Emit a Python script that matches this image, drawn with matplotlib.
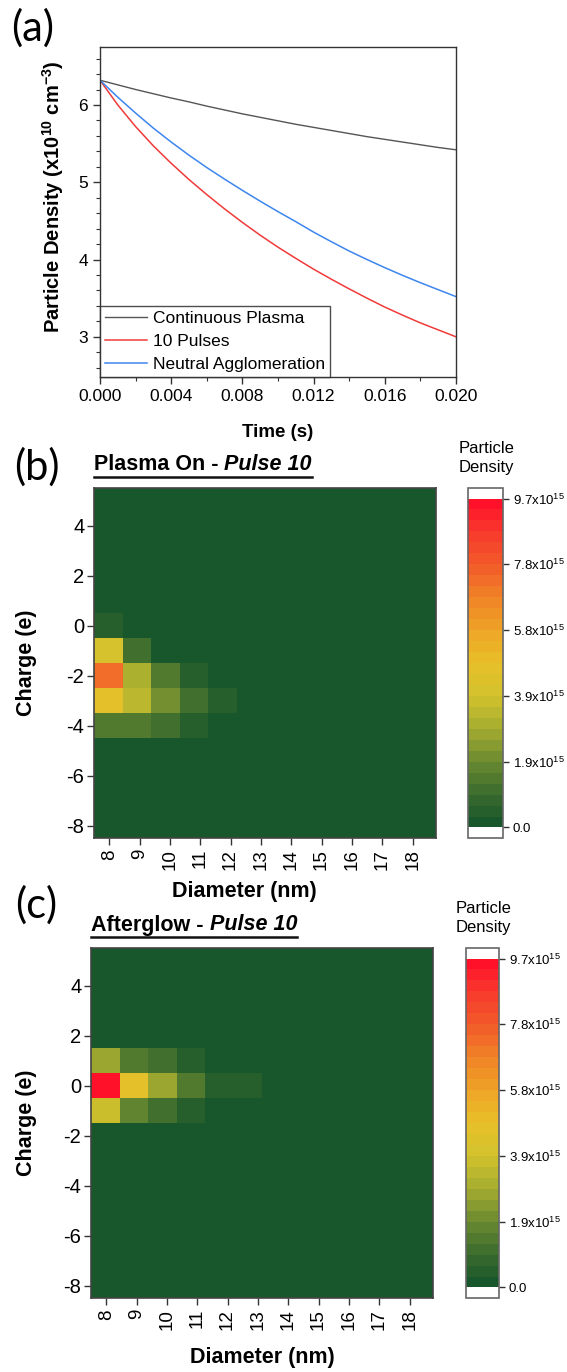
import numpy as np
import matplotlib
matplotlib.use("Agg")
import matplotlib.pyplot as plt
from matplotlib.colors import LinearSegmentedColormap, ListedColormap, BoundaryNorm
from matplotlib.ticker import MultipleLocator, FormatStrFormatter
from matplotlib.lines import Line2D

plt.rcParams['font.family'] = ['Liberation Sans', 'DejaVu Sans']
plt.rcParams['mathtext.fontset'] = 'custom'
plt.rcParams['mathtext.rm'] = 'Liberation Sans'
plt.rcParams['mathtext.bf'] = 'Liberation Sans:bold'
plt.rcParams['mathtext.it'] = 'Liberation Sans:italic'
plt.rcParams['axes.unicode_minus'] = False

# ---------------- data: panel (a) ----------------
time_s = [0.000, 0.001, 0.002, 0.003, 0.004, 0.005, 0.006, 0.007, 0.008, 0.009, 0.010,
          0.011, 0.012, 0.013, 0.014, 0.015, 0.016, 0.017, 0.018, 0.019, 0.020]
continuous = [6.32, 6.26, 6.20, 6.145, 6.09, 6.04, 5.985, 5.935, 5.885, 5.84, 5.795,
              5.75, 5.71, 5.67, 5.63, 5.59, 5.555, 5.52, 5.485, 5.45, 5.42]
pulses10 = [6.32, 6.00, 5.72, 5.47, 5.245, 5.035, 4.84, 4.655, 4.48, 4.315, 4.16,
            4.015, 3.875, 3.745, 3.62, 3.50, 3.385, 3.28, 3.18, 3.09, 3.00]
neutral = [6.32, 6.10, 5.895, 5.70, 5.52, 5.35, 5.19, 5.04, 4.895, 4.755, 4.62,
           4.49, 4.355, 4.23, 4.11, 4.00, 3.895, 3.795, 3.70, 3.61, 3.52]

# ---------------- data: heatmaps (units of 1e15) ----------------
diameters = [8, 9, 10, 11, 12, 13, 14, 15, 16, 17, 18]
charges = [5, 4, 3, 2, 1, 0, -1, -2, -3, -4, -5, -6, -7, -8]
plasma_on = [
    [0, 0, 0, 0, 0, 0, 0, 0, 0, 0, 0],          # 5
    [0, 0, 0, 0, 0, 0, 0, 0, 0, 0, 0],          # 4
    [0, 0, 0, 0, 0, 0, 0, 0, 0, 0, 0],          # 3
    [0, 0, 0, 0, 0, 0, 0, 0, 0, 0, 0],          # 2
    [0, 0, 0, 0, 0, 0, 0, 0, 0, 0, 0],          # 1
    [0.5, 0, 0, 0, 0, 0, 0, 0, 0, 0, 0],        # 0
    [3.9, 0.97, 0, 0, 0, 0, 0, 0, 0, 0, 0],     # -1
    [7.2, 3.0, 1.35, 0.5, 0, 0, 0, 0, 0, 0, 0], # -2
    [4.65, 3.4, 1.95, 1.05, 0.5, 0, 0, 0, 0, 0, 0],  # -3
    [1.35, 1.35, 1.05, 0.5, 0, 0, 0, 0, 0, 0, 0],    # -4
    [0, 0, 0, 0, 0, 0, 0, 0, 0, 0, 0],          # -5
    [0, 0, 0, 0, 0, 0, 0, 0, 0, 0, 0],          # -6
    [0, 0, 0, 0, 0, 0, 0, 0, 0, 0, 0],          # -7
    [0, 0, 0, 0, 0, 0, 0, 0, 0, 0, 0],          # -8
]
afterglow = [
    [0, 0, 0, 0, 0, 0, 0, 0, 0, 0, 0],          # 5
    [0, 0, 0, 0, 0, 0, 0, 0, 0, 0, 0],          # 4
    [0, 0, 0, 0, 0, 0, 0, 0, 0, 0, 0],          # 3
    [0, 0, 0, 0, 0, 0, 0, 0, 0, 0, 0],          # 2
    [2.7, 1.35, 0.97, 0.5, 0, 0, 0, 0, 0, 0, 0],      # 1
    [9.6, 4.8, 2.7, 1.45, 0.5, 0.5, 0, 0, 0, 0, 0],   # 0
    [3.6, 1.9, 0.97, 0.5, 0, 0, 0, 0, 0, 0, 0],       # -1
    [0, 0, 0, 0, 0, 0, 0, 0, 0, 0, 0],          # -2
    [0, 0, 0, 0, 0, 0, 0, 0, 0, 0, 0],          # -3
    [0, 0, 0, 0, 0, 0, 0, 0, 0, 0, 0],          # -4
    [0, 0, 0, 0, 0, 0, 0, 0, 0, 0, 0],          # -5
    [0, 0, 0, 0, 0, 0, 0, 0, 0, 0, 0],          # -6
    [0, 0, 0, 0, 0, 0, 0, 0, 0, 0, 0],          # -7
    [0, 0, 0, 0, 0, 0, 0, 0, 0, 0, 0],          # -8
]
cbar_max = 9.7
cbar_ticks = [0.0, 1.94, 3.88, 5.82, 7.76, 9.7]
cbar_labels = ['0.0', '1.9x10$^{15}$', '3.9x10$^{15}$', '5.8x10$^{15}$',
               '7.8x10$^{15}$', '9.7x10$^{15}$']

# ---------------- figure ----------------
W, H = 567, 1372
fig = plt.figure(figsize=(W / 100, H / 100), dpi=100)


def rect(l, t, r, b):
    return [l / W, 1 - b / H, (r - l) / W, (b - t) / H]


# ---------- panel (a) ----------
axA = fig.add_axes(rect(100, 47, 456, 377))
axA.plot(time_s, continuous, color='#555555', lw=1.0, label='Continuous Plasma')
axA.plot(time_s, pulses10, color='#f03a3a', lw=1.1, label='10 Pulses')
axA.plot(time_s, neutral, color='#3d86ee', lw=1.1, label='Neutral Agglomeration')
axA.set_xlim(0, 0.020)
axA.set_ylim(2.48, 6.75)
axA.xaxis.set_major_locator(MultipleLocator(0.004))
axA.xaxis.set_minor_locator(MultipleLocator(0.002))
axA.xaxis.set_major_formatter(FormatStrFormatter('%.3f'))
axA.yaxis.set_major_locator(MultipleLocator(1))
axA.yaxis.set_minor_locator(MultipleLocator(0.2))
axA.tick_params(which='major', direction='out', length=5, width=1, labelsize=12.5,
                top=False, right=False, color='#333333')
axA.tick_params(which='minor', direction='out', length=3, width=0.8,
                top=False, right=False, color='#333333')
for s in axA.spines.values():
    s.set_color('#333333')
    s.set_linewidth(1.0)
axA.set_xlabel('Time (s)', fontsize=13.5, fontweight='bold')
axA.xaxis.set_label_coords(0.5, -0.142)
axA.set_ylabel(r'Particle Density (x10$^{\mathbf{10}}$ cm$^{\mathbf{-3}}$)',
               fontsize=14.5, fontweight='bold')
axA.yaxis.set_label_coords(-0.095, 0.547)
leg = axA.legend(loc='lower left', borderaxespad=0.0, fontsize=12.5, frameon=True,
                 fancybox=False, edgecolor='#222222', handlelength=2.4,
                 labelspacing=0.45, borderpad=0.3, handletextpad=0.35)
leg.get_frame().set_linewidth(1.0)

# ---------- colormap ----------
nodes = [(0.00, '#12522b'), (0.10, '#3a6a2e'), (0.20, '#6a8a30'), (0.30, '#a4ac30'),
         (0.40, '#d2c22c'), (0.50, '#e8c02a'), (0.60, '#eea426'), (0.70, '#f08228'),
         (0.80, '#f25a2a'), (0.90, '#f8382c'), (1.00, '#ff0a28')]
base = LinearSegmentedColormap.from_list('pd', nodes, N=512)
nb = 30
band_cols = base((np.arange(nb) + 0.5) / nb)
cmap = ListedColormap(band_cols)
cmap.set_over('white')
cmap.set_under('white')
levels = np.linspace(0, cbar_max, nb + 1)
norm = BoundaryNorm(levels, nb)

renderer = fig.canvas.get_renderer()


def heatmap(ax_box, cax_box, data, title_a, title_b, title_y, xlab_coords, ylab_x):
    ax = fig.add_axes(rect(*ax_box))
    ax.set_facecolor(cmap(0))
    cell_w = 0.94
    xe = diameters[0] - 0.5 + cell_w * np.arange(len(diameters) + 1)
    ye = np.array(sorted(charges) + [max(charges) + 1]) - 0.5
    z = np.array(data)[::-1]
    mesh = ax.pcolormesh(xe, ye, z, cmap=cmap, norm=norm, shading='flat')
    ax.set_xlim(7.5, 18.77)
    ax.set_ylim(-8.5, 5.5)
    ax.set_xticks(diameters)
    ax.set_xticklabels([str(d) for d in diameters], rotation=90)
    ax.set_yticks(range(-8, 5, 2))
    ax.tick_params(direction='out', length=5, width=1, color='#333333')
    ax.tick_params(axis='x', labelsize=13.5, pad=3)
    ax.tick_params(axis='y', labelsize=14.5, pad=2)
    for s in ax.spines.values():
        s.set_color('#444444')
        s.set_linewidth(1.2)
    ax.set_xlabel('Diameter (nm)', fontsize=15.5, fontweight='bold')
    ax.xaxis.set_label_coords(*xlab_coords)
    ax.set_ylabel('Charge (e)', fontsize=15.5, fontweight='bold')
    ax.yaxis.set_label_coords(ylab_x, 0.5)

    cax = fig.add_axes(rect(*cax_box))
    cb = fig.colorbar(mesh, cax=cax, extend='both', extendrect=True,
                      extendfrac=0.032, drawedges=False)
    cb.set_ticks(cbar_ticks)
    cb.set_ticklabels(cbar_labels)
    cb.minorticks_off()
    cb.ax.tick_params(length=4, width=1, labelsize=9.5, color='#333333', pad=3)
    cb.outline.set_edgecolor('#666666')
    cb.outline.set_linewidth(1.2)
    cx = (cax_box[0] + cax_box[2]) / 2
    fig.text((cx + 1) / W, 1 - (cax_box[1] - 30) / H, 'Particle\nDensity',
             ha='center', va='center', fontsize=12, linespacing=1.3)

    # underlined title
    x0 = ax_box[0]
    t1 = fig.text(x0 / W, 1 - title_y / H, title_a, fontsize=15.5,
                  fontweight='bold', va='center', ha='left')
    b1 = t1.get_window_extent(renderer)
    t2 = fig.text((b1.x1 + 6) / W, 1 - title_y / H, title_b, fontsize=15.5,
                  fontweight='bold', style='italic', va='center', ha='left')
    b2 = t2.get_window_extent(renderer)
    yl = min(b1.y0, b2.y0) - 1.5
    fig.add_artist(Line2D([b1.x0 / W, b2.x1 / W], [yl / H, yl / H],
                          color='#111111', lw=1.8))
    return ax


heatmap((94, 488, 436, 838), (468, 488, 503, 838), plasma_on,
        'Plasma On -', 'Pulse 10', 465, (0.44, -0.123), -0.167)
heatmap((91, 948, 433, 1298), (466, 948, 499, 1298), afterglow,
        'Afterglow -', 'Pulse 10', 925, (0.5, -0.14), -0.158)

# panel labels
for lab, x, y in [('(a)', 33, 28), ('(b)', 37, 467), ('(c)', 36, 905)]:
    fig.text(x / W, 1 - y / H, lab, fontsize=30, family=['Lato', 'DejaVu Sans'],
             ha='center', va='center')

fig.savefig('out.png', dpi=100)
